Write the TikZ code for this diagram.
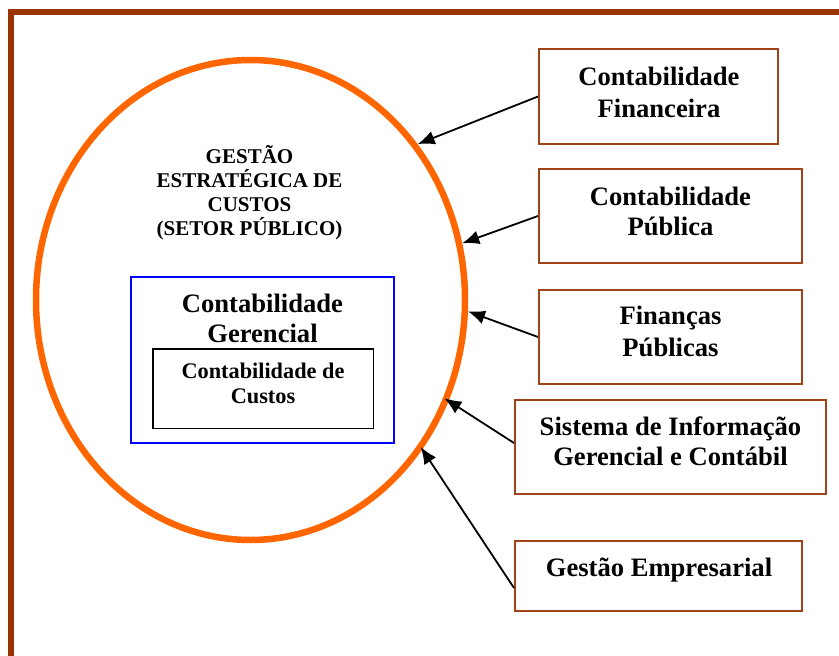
\documentclass[tikz,border=0pt]{standalone}
\usepackage{fontspec}
\setmainfont{Liberation Serif}
\usetikzlibrary{arrows.meta,shapes.geometric}
\definecolor{frameBrown}{HTML}{993300}
\definecolor{ringOrange}{HTML}{FF6600}
\definecolor{boxBrown}{HTML}{A0421A}
\definecolor{boxBlue}{HTML}{0000FF}
\begin{document}
\begin{tikzpicture}[x=1pt,y=-1pt,
  rbox/.style={draw=boxBrown, line width=2pt, rectangle, inner sep=0pt},
  btxt/.style={font=\bfseries\fontsize{26.6}{31}\selectfont, align=center, anchor=base, inner sep=0pt},
  arr/.style={-{Latex[length=17pt,width=14pt]}, line width=1.8pt, black}]
\useasboundingbox (0,0) rectangle (839,656);
% outer frame
\draw[frameBrown, line width=6pt] (11,656) -- (11,12) -- (839,12);
% ring
\node[ellipse, draw=ringOrange, line width=6.5pt, minimum width=429pt, minimum height=480pt, inner sep=0pt] (ring) at (250.5,300) {};
\node[font=\bfseries\fontsize{21}{24}\selectfont, align=center, anchor=base, inner sep=0pt] (title) at (249.5,235) {GESTÃO\\ESTRATÉGICA DE\\CUSTOS\\(SETOR PÚBLICO)};
% inner boxes
\node[draw=boxBlue, line width=2pt, rectangle, inner sep=0pt, minimum width=263pt, minimum height=166pt] (ger) at (262.5,360) {};
\node[btxt, font=\bfseries\fontsize{26.6}{30}\selectfont] (gertxt) at (262.5,342) {Contabilidade\\Gerencial};
\node[draw=black, line width=1.5pt, rectangle, inner sep=0pt, minimum width=220.5pt, minimum height=79.5pt] (cus) at (263,388.5) {};
\node[btxt, font=\bfseries\fontsize{22.3}{25}\selectfont] (custxt) at (263,403) {Contabilidade de\\Custos};
% right boxes
\node[rbox, minimum width=239pt, minimum height=95pt] (b1) at (658.5,96.5) {};
\node[btxt, font=\bfseries\fontsize{26.6}{32}\selectfont] (t1) at (659,117) {Contabilidade\\Financeira};
\node[rbox, minimum width=263pt, minimum height=94pt] (b2) at (670.5,216) {};
\node[btxt, font=\bfseries\fontsize{26.6}{30}\selectfont] (t2) at (670.5,235) {Contabilidade\\Pública};
\node[rbox, minimum width=263pt, minimum height=94pt] (b3) at (670.5,337) {};
\node[btxt, font=\bfseries\fontsize{26.6}{32}\selectfont] (t3) at (670.5,356) {Finanças\\Públicas};
\node[rbox, minimum width=311pt, minimum height=94pt] (b4) at (670.5,447) {};
\node[btxt, font=\bfseries\fontsize{26.6}{30}\selectfont] (t4) at (670.5,465) {Sistema de Informação\\Gerencial e Contábil};
\node[rbox, minimum width=287pt, minimum height=70pt] (b5) at (658.5,576) {};
\node[btxt] (t5) at (659,576) {Gestão Empresarial};
% arrows
\draw[arr] (b1.west) -- (ring.43);
\draw[arr] (b2.west) -- (ring.15);
\draw[arr] (b3.west) -- (ring.-3);
\draw[arr, shorten >=-5pt] ([yshift=4pt]b4.west) -- (ring.-27);
\draw[arr, shorten >=-3pt] ([yshift=-12pt]b5.west) -- (ring.-41);
\end{tikzpicture}
\end{document}
